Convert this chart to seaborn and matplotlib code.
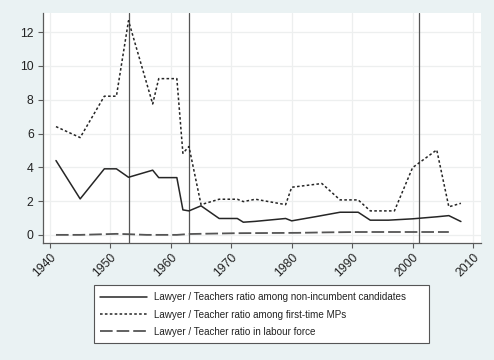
import matplotlib
matplotlib.use("Agg")
import matplotlib.pyplot as plt
import seaborn as sns
import pandas as pd
from matplotlib.lines import Line2D
from matplotlib.patches import Rectangle

# ---- data ----
years_nonincumbent = [1941, 1945, 1949, 1951, 1953, 1957, 1958, 1961, 1962, 1963, 1965, 1968, 1971,
                      1972, 1974, 1979, 1980, 1984, 1988, 1991, 1993, 1996, 2000, 2004, 2006, 2008]
ratio_nonincumbent = [4.40, 2.13, 3.91, 3.91, 3.41, 3.83, 3.39, 3.39, 1.48, 1.42, 1.72, 0.97, 0.97,
                      0.75, 0.80, 0.97, 0.83, 1.08, 1.34, 1.34, 0.87, 0.87, 0.95, 1.07, 1.14, 0.79]

years_firsttime = [1941, 1945, 1949, 1951, 1953, 1957, 1958, 1961, 1962, 1963, 1965, 1968, 1971,
                   1972, 1974, 1979, 1980, 1985, 1988, 1991, 1993, 1997, 2000, 2004, 2006, 2008]
ratio_firsttime = [6.41, 5.76, 8.21, 8.21, 12.68, 7.75, 9.25, 9.25, 4.83, 5.23, 1.79, 2.11, 2.11,
                   1.97, 2.11, 1.79, 2.82, 3.04, 2.07, 2.07, 1.42, 1.42, 3.98, 5.03, 1.66, 1.87]

years_labour = [1941, 1945, 1949, 1951, 1953, 1956, 1961, 1963, 1966, 1971, 1976, 1981, 1986,
                1991, 1996, 2001, 2006]
ratio_labour = [0.00, 0.00, 0.04, 0.06, 0.04, 0.00, 0.00, 0.05, 0.07, 0.10, 0.11, 0.12, 0.15,
                0.17, 0.17, 0.17, 0.17]

vlines = [1953, 1963, 2001]
xticks = [1940, 1950, 1960, 1970, 1980, 1990, 2000, 2010]
yticks = [0, 2, 4, 6, 8, 10, 12]

labels = ["Lawyer / Teachers ratio among non-incumbent candidates",
          "Lawyer / Teacher ratio among first-time MPs",
          "Lawyer / Teacher ratio in labour force"]

# ---- style ----
sns.set_theme(style="white")
plt.rcParams['font.family'] = ['Liberation Sans', 'DejaVu Sans']

W, H = 494, 360
bg = "#EAF2F3"
fig = plt.figure(figsize=(W / 100, H / 100), dpi=100, facecolor=bg)
ax = fig.add_axes([0.0864, 0.326, 0.887, 0.639])
ax.set_facecolor("white")

df1 = pd.DataFrame({"year": years_nonincumbent, "ratio": ratio_nonincumbent})
df2 = pd.DataFrame({"year": years_firsttime, "ratio": ratio_firsttime})
df3 = pd.DataFrame({"year": years_labour, "ratio": ratio_labour})

line_col = "#262626"
sns.lineplot(data=df1, x="year", y="ratio", ax=ax, color=line_col, lw=1.1, zorder=3)
sns.lineplot(data=df2, x="year", y="ratio", ax=ax, color=line_col, lw=1.1, zorder=3)
ax.lines[-1].set_dashes((1.7, 1.5))
sns.lineplot(data=df3, x="year", y="ratio", ax=ax, color="#555555", lw=1.3, zorder=3)
ax.lines[-1].set_dashes((7, 2.2))

for v in vlines:
    ax.axvline(v, color="#555555", lw=0.9, zorder=2)

ax.set_xlim(1938.8, 2011.3)
ax.set_ylim(-0.46, 13.16)
ax.set_xticks(xticks)
ax.set_yticks(yticks)
ax.set_xticklabels([str(t) for t in xticks], rotation=45, ha="right", rotation_mode="anchor")
ax.grid(True, color="#EDEFEF", lw=0.9, zorder=0)
ax.set_axisbelow(True)
ax.set_xlabel("")
ax.set_ylabel("")

for s in ["top", "right"]:
    ax.spines[s].set_visible(False)
for s in ["left", "bottom"]:
    ax.spines[s].set_color("#5a5a5a")
    ax.spines[s].set_linewidth(0.9)
ax.tick_params(axis="both", which="both", length=3.5, width=0.8, color="#5a5a5a",
               direction="out", labelsize=8.8, labelcolor="#222222", pad=3,
               bottom=True, left=True)

# legend frame (Stata-style box, drawn in figure pixels)
fig.patches.append(Rectangle((94 / W, 1 - 343 / H), (429 - 94) / W, (343 - 285) / H,
                             transform=fig.transFigure, facecolor="white",
                             edgecolor="#555555", lw=0.8, zorder=1))

handles = [Line2D([], [], color=line_col, lw=1.1),
           Line2D([], [], color=line_col, lw=1.1, dashes=(1.7, 1.5)),
           Line2D([], [], color="#555555", lw=1.3, dashes=(7, 2.2))]
leg = fig.legend(handles, labels, loc="upper left", bbox_to_anchor=(100 / W, 1 - 292.5 / H),
                 fontsize=7.1, frameon=False, handlelength=4.75,
                 handletextpad=0.75, labelspacing=0.72, borderpad=0, borderaxespad=0)
for t in leg.get_texts():
    t.set_color("#222222")

fig.savefig("out.png", dpi=100, facecolor=bg)
